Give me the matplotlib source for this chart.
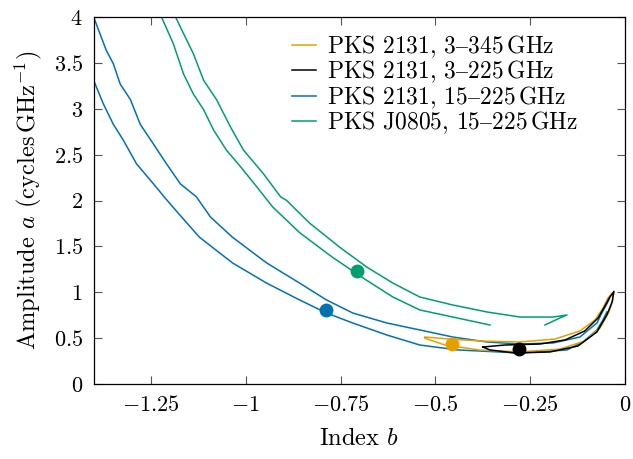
import numpy as np
import matplotlib
matplotlib.use("Agg")
import matplotlib.pyplot as plt

# ---------------- data ----------------
# blue contour, PKS 2131 15-225 GHz (two boundary arcs)
blue_up_b = [-1.400, -1.368, -1.349, -1.331, -1.304, -1.278, -1.244, -1.209, -1.172,
             -1.130, -1.093, -1.035, -0.945, -0.858, -0.787, -0.718, -0.628, -0.541,
             -0.454, -0.364, -0.277, -0.190, -0.119, -0.074, -0.061, -0.048, -0.040]
blue_up_a = [3.99, 3.64, 3.49, 3.27, 3.10, 2.83, 2.62, 2.40, 2.18,
             2.04, 1.82, 1.60, 1.32, 1.10, 0.916, 0.774, 0.665, 0.589,
             0.512, 0.458, 0.436, 0.447, 0.512, 0.665, 0.774, 0.872, 0.94]
blue_lo_b = [-1.400, -1.375, -1.349, -1.323, -1.288, -1.243, -1.209, -1.169, -1.122,
             -1.035, -0.945, -0.858, -0.787, -0.718, -0.628, -0.541, -0.441, -0.277,
             -0.153, -0.111, -0.074, -0.058, -0.048]
blue_lo_a = [3.30, 3.05, 2.83, 2.66, 2.40, 2.18, 2.01, 1.82, 1.60,
             1.32, 1.10, 0.916, 0.774, 0.665, 0.534, 0.425, 0.371, 0.338,
             0.371, 0.458, 0.589, 0.698, 0.785]

# green contour, PKS J0805 15-225 GHz
green_lo_b = [-1.222, -1.191, -1.164, -1.138, -1.111, -1.085, -1.051, -1.014, -0.971,
              -0.929, -0.858, -0.771, -0.681, -0.612, -0.541, -0.454, -0.356]
green_lo_a = [4.00, 3.71, 3.38, 3.16, 2.99, 2.77, 2.55, 2.37, 2.15,
              1.93, 1.65, 1.38, 1.13, 0.948, 0.807, 0.730, 0.643]
green_up_b = [-1.185, -1.164, -1.138, -1.111, -1.077, -1.040, -1.006, -0.953, -0.908,
              -0.892, -0.832, -0.752, -0.681, -0.612, -0.541, -0.454, -0.364, -0.277,
              -0.190, -0.153, -0.172, -0.211]
green_up_a = [4.00, 3.82, 3.60, 3.31, 3.10, 2.80, 2.55, 2.29, 2.04,
              2.00, 1.755, 1.49, 1.275, 1.10, 0.948, 0.861, 0.785, 0.730,
              0.730, 0.752, 0.719, 0.643]

# orange contour, PKS 2131 3-345 GHz (closed loop)
orange_b = [-0.528, -0.462, -0.383, -0.277, -0.185, -0.119, -0.079, -0.058, -0.045,
            -0.034, -0.032, -0.042, -0.066, -0.106, -0.172, -0.277, -0.383, -0.475, -0.528]
orange_a = [0.512, 0.49, 0.469, 0.458, 0.49, 0.578, 0.698, 0.828, 0.937,
            0.99, 0.915, 0.785, 0.61, 0.469, 0.38, 0.35, 0.37, 0.425, 0.50]

# black contour, PKS 2131 3-225 GHz (closed loop)
black_b = [-0.375, -0.317, -0.224, -0.158, -0.106, -0.071, -0.053, -0.040, -0.029,
           -0.034, -0.048, -0.074, -0.124, -0.198, -0.290, -0.356, -0.375]
black_a = [0.403, 0.425, 0.436, 0.48, 0.578, 0.719, 0.85, 0.948, 1.01,
           0.894, 0.752, 0.567, 0.414, 0.349, 0.338, 0.371, 0.403]

# best-fit points (orange, black, blue, green)
best_b = [-0.457, -0.280, -0.789, -0.707]
best_a = [0.436, 0.381, 0.806, 1.23]

labels = ['PKS 2131, 3$–$345$\\,$GHz', 'PKS 2131, 3$–$225$\\,$GHz',
          'PKS 2131, 15$–$225$\\,$GHz', 'PKS J0805, 15$–$225$\\,$GHz']
colors = ['#E69F00', '#000000', '#0072B2', '#009E73']

xticks = [-1.25, -1, -0.75, -0.5, -0.25, 0]
xticklabels = ['$-1.25$', '$-1$', '$-0.75$', '$-0.5$', '$-0.25$', '$0$']
yticks = [0, 0.5, 1, 1.5, 2, 2.5, 3, 3.5, 4]
yticklabels = ['$0$', '$0.5$', '$1$', '$1.5$', '$2$', '$2.5$', '$3$', '$3.5$', '$4$']

# ---------------- plot ----------------
plt.rcParams['font.family'] = ['cmr10', 'DejaVu Serif']
plt.rcParams['mathtext.fontset'] = 'cm'
plt.rcParams['font.size'] = 17

fig = plt.figure(figsize=(6.33, 4.59), dpi=100)
ax = fig.add_axes([94/633, 1-384/459, 531/633, 367/459])

lw = 1.1
ax.plot(blue_up_b, blue_up_a, color=colors[2], lw=lw)
ax.plot(blue_lo_b, blue_lo_a, color=colors[2], lw=lw)
ax.plot(green_lo_b, green_lo_a, color=colors[3], lw=lw)
ax.plot(green_up_b, green_up_a, color=colors[3], lw=lw)
ax.plot(orange_b, orange_a, color=colors[0], lw=lw)
ax.plot(black_b, black_a, color=colors[1], lw=lw)

for i in range(4):
    ax.plot(best_b[i], best_a[i], 'o', color=colors[i], ms=10, mec='none', zorder=5)

handles = [plt.Line2D([], [], color=c, lw=lw) for c in colors]
ax.legend(handles, labels, loc='upper left', bbox_to_anchor=(0.373, 0.955),
          frameon=False, handlelength=1.0, handletextpad=0.5, labelspacing=-0.05,
          borderpad=0, borderaxespad=0, fontsize=17)

ax.set_xlim(-1.4, 0)
ax.set_ylim(0, 4)
ax.set_xticks(xticks)
ax.set_xticklabels(xticklabels)
ax.set_yticks(yticks)
ax.set_yticklabels(yticklabels)
ax.tick_params(direction='in', top=True, right=True, length=6, width=0.8,
               color='#555555', labelsize=16, pad=8)
for s in ax.spines.values():
    s.set_linewidth(0.9)

ax.set_xlabel('Index $b$', labelpad=9, fontsize=17.6)
ax.set_ylabel('Amplitude $a$ (cycles$\\,$GHz$^{-1}$)', labelpad=7, fontsize=17.6)

fig.savefig('out.png', dpi=100)
